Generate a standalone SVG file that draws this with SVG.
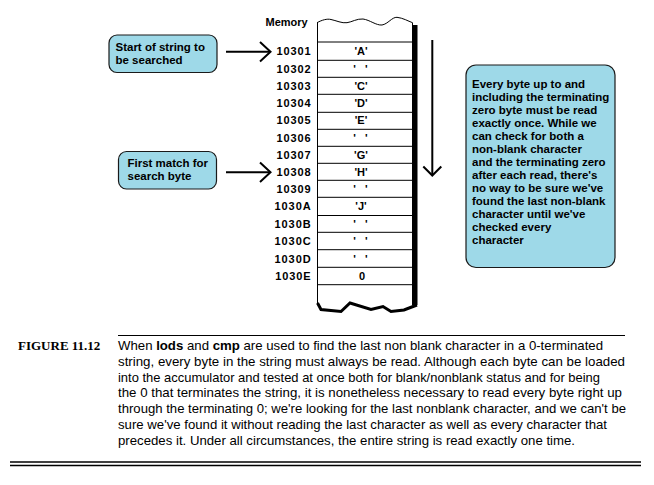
<svg xmlns="http://www.w3.org/2000/svg" width="654" height="485" viewBox="0 0 654 485">
<style>
.bx{fill:#9ed9e8;stroke:#1a1a1a;stroke-width:1.2}
.bt{font-family:"Liberation Sans",Arial,sans-serif;font-weight:bold;font-size:11.5px;fill:#000}
.addr{font-family:"Liberation Sans",Arial,sans-serif;font-weight:bold;font-size:11px;letter-spacing:0.9px;fill:#000;text-anchor:end}
.val{font-family:"Liberation Sans",Arial,sans-serif;font-weight:bold;font-size:11px;fill:#000;text-anchor:middle}
.blank{letter-spacing:3px}
.ln{stroke:#000;stroke-width:1;fill:none}
.arr{stroke:#000;stroke-width:2;fill:none}
.cap{font-family:"Liberation Sans",Arial,sans-serif;font-size:13px;fill:#000}
.fig{font-family:"Liberation Serif","Times New Roman",serif;font-weight:bold;font-size:13px;fill:#000}
</style>
<rect width="654" height="485" fill="#fff"/>

<g id="memory">
  <text x="265.5" y="26" class="bt" style="font-size:11px">Memory</text>
  <rect x="317" y="22" width="95.5" height="283" fill="#fff"/>
  <rect x="413" y="25" width="4.5" height="280" fill="#000"/>
  <path class="ln" d="M317,22.7 C322,20 327,18.5 331,19.5 C336,20.5 342,23.5 347,22.7 C352,22 357,18.5 363,19 C370,20 376,25.5 382,25 C388,24 392,17 397,17.3 C403,18 408,21 412.5,22.7"/>
  <line class="ln" x1="317.5" y1="22.7" x2="317.5" y2="304"/>
  <line class="ln" x1="412.5" y1="22.7" x2="412.5" y2="305"/>
  <path d="M317.5,303 L321,309.5 L341,311.5 L350,303 L371,309.5 L383,306.5 L391,311.5 L404,310 L417,305" fill="none" stroke="#000" stroke-width="3" stroke-linejoin="miter"/>
  <g class="ln">
    <line x1="317" y1="42" x2="413" y2="42"/>
    <line x1="317" y1="60.3" x2="413" y2="60.3"/>
    <line x1="317" y1="77.3" x2="413" y2="77.3"/>
    <line x1="317" y1="94.3" x2="413" y2="94.3"/>
    <line x1="317" y1="112.3" x2="413" y2="112.3"/>
    <line x1="317" y1="129.3" x2="413" y2="129.3"/>
    <line x1="317" y1="146.3" x2="413" y2="146.3"/>
    <line x1="317" y1="163.3" x2="413" y2="163.3"/>
    <line x1="317" y1="180.3" x2="413" y2="180.3"/>
    <line x1="317" y1="197.3" x2="413" y2="197.3"/>
    <line x1="317" y1="215.5" x2="413" y2="215.5"/>
    <line x1="317" y1="232.3" x2="413" y2="232.3"/>
    <line x1="317" y1="249.7" x2="413" y2="249.7"/>
    <line x1="317" y1="267.3" x2="413" y2="267.3"/>
    <line x1="317" y1="284.7" x2="413" y2="284.7"/>
  </g>
  <text class="addr" x="311.5" y="55">10301</text>
  <text class="addr" x="311.5" y="72.5">10302</text>
  <text class="addr" x="311.5" y="89.5">10303</text>
  <text class="addr" x="311.5" y="106.5">10304</text>
  <text class="addr" x="311.5" y="124">10305</text>
  <text class="addr" x="311.5" y="141.5">10306</text>
  <text class="addr" x="311.5" y="158.5">10307</text>
  <text class="addr" x="311.5" y="175.5">10308</text>
  <text class="addr" x="311.5" y="192.5">10309</text>
  <text class="addr" x="311.5" y="210">1030A</text>
  <text class="addr" x="311.5" y="227.5">1030B</text>
  <text class="addr" x="311.5" y="245">1030C</text>
  <text class="addr" x="311.5" y="262.5">1030D</text>
  <text class="addr" x="311.5" y="280">1030E</text>
  <text class="val" x="361" y="55">'A'</text>
  <text class="val blank" x="362" y="72.5">' '</text>
  <text class="val" x="361" y="89.5">'C'</text>
  <text class="val" x="361" y="106.5">'D'</text>
  <text class="val" x="361" y="124">'E'</text>
  <text class="val blank" x="362" y="141.5">' '</text>
  <text class="val" x="361" y="158.5">'G'</text>
  <text class="val" x="361" y="175.5">'H'</text>
  <text class="val blank" x="362" y="192.5">' '</text>
  <text class="val" x="361" y="210">'J'</text>
  <text class="val blank" x="362" y="227.5">' '</text>
  <text class="val blank" x="362" y="245">' '</text>
  <text class="val blank" x="362" y="262.5">' '</text>
  <text class="val" x="362" y="280">0</text>
</g>

<g id="box-start">
  <rect class="bx" x="109" y="35" width="108" height="37.5" rx="8"/>
  <text class="bt" x="115.5" y="51">Start of string to</text>
  <text class="bt" x="115.5" y="63.5">be searched</text>
</g>

<g id="box-match">
  <rect class="bx" x="118.5" y="151.5" width="98" height="37.5" rx="8"/>
  <text class="bt" x="127.5" y="167">First match for</text>
  <text class="bt" x="127.5" y="180">search byte</text>
</g>

<g id="box-note">
  <rect class="bx" x="466" y="65" width="149" height="202.5" rx="10"/>
  <text class="bt" x="472" y="88.3">Every byte up to and</text>
  <text class="bt" x="472" y="101.3">including the terminating</text>
  <text class="bt" x="472" y="114.3">zero byte must be read</text>
  <text class="bt" x="472" y="127.3">exactly once. While we</text>
  <text class="bt" x="472" y="140.3">can check for both a</text>
  <text class="bt" x="472" y="153.3">non-blank character</text>
  <text class="bt" x="472" y="166.3">and the terminating zero</text>
  <text class="bt" x="472" y="179.3">after each read, there's</text>
  <text class="bt" x="472" y="192.3">no way to be sure we've</text>
  <text class="bt" x="472" y="205.3">found the last non-blank</text>
  <text class="bt" x="472" y="218.3">character until we've</text>
  <text class="bt" x="472" y="231.3">checked every</text>
  <text class="bt" x="472" y="244.3">character</text>
</g>

<g id="connectors">
  <line class="arr" x1="226" y1="51.7" x2="270" y2="51.7"/>
  <polyline class="arr" points="260,42 270.5,51.7 260,61.5"/>
  <line class="arr" x1="226" y1="172.3" x2="270" y2="172.3"/>
  <polyline class="arr" points="260,162.5 270.5,172.3 260,182"/>
  <line class="arr" x1="432.3" y1="40" x2="432.3" y2="175"/>
  <polyline class="arr" points="423.3,166.5 432.3,175.5 441.3,166.5"/>
</g>

<g id="caption">
  <line x1="118" y1="335.5" x2="625" y2="335.5" stroke="#000" stroke-width="1.2"/>
  <text class="fig" x="18" y="350">FIGURE 11.12</text>
  <text class="cap" x="118" y="350" textLength="485" lengthAdjust="spacingAndGlyphs">When <tspan font-weight="bold">lods</tspan> and <tspan font-weight="bold">cmp</tspan> are used to find the last non blank character in a 0-terminated</text>
  <text class="cap" x="118" y="365.8" textLength="507" lengthAdjust="spacingAndGlyphs">string, every byte in the string must always be read. Although each byte can be loaded</text>
  <text class="cap" x="118" y="381.6" textLength="482" lengthAdjust="spacingAndGlyphs">into the accumulator and tested at once both for blank/nonblank status and for being</text>
  <text class="cap" x="118" y="397.4" textLength="504" lengthAdjust="spacingAndGlyphs">the 0 that terminates the string, it is nonetheless necessary to read every byte right up</text>
  <text class="cap" x="118" y="413.2" textLength="508" lengthAdjust="spacingAndGlyphs">through the terminating 0; we're looking for the last nonblank character, and we can't be</text>
  <text class="cap" x="118" y="429" textLength="489" lengthAdjust="spacingAndGlyphs">sure we've found it without reading the last character as well as every character that</text>
  <text class="cap" x="118" y="444.8" textLength="457" lengthAdjust="spacingAndGlyphs">precedes it. Under all circumstances, the entire string is read exactly one time.</text>
  <line x1="10" y1="462" x2="641" y2="462" stroke="#000" stroke-width="1.5"/>
  <line x1="10" y1="465.5" x2="641" y2="465.5" stroke="#000" stroke-width="1.5"/>
</g>
</svg>
